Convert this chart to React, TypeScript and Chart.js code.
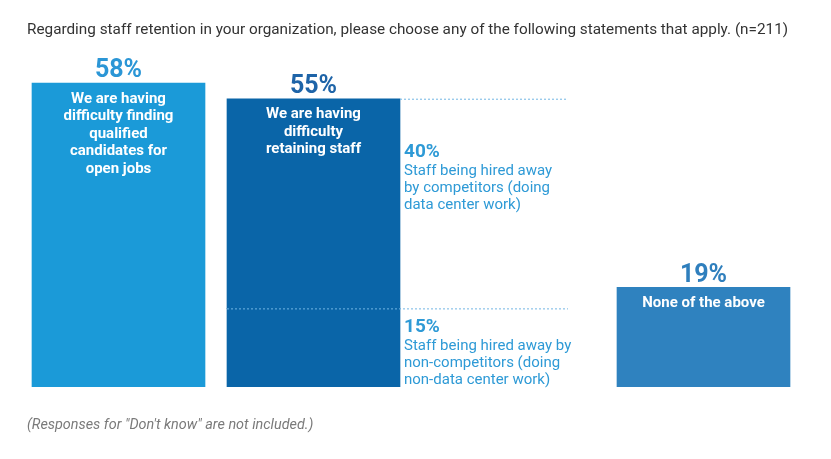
import React, { useEffect, useRef } from "react";
import { Chart, registerables, Plugin } from "chart.js";

Chart.register(...registerables);

const titleText =
  "Regarding staff retention in your organization, please choose any of the following statements that apply. (n=211)";
const footnoteText = '(Responses for "Don\'t know" are not included.)';

// one empty slot holds the breakdown notes for the second bar
const categories = ["Finding candidates", "Retaining staff", "Breakdown", "None of the above"];
const barLabels: string[][] = [
  ["We are having", "difficulty finding", "qualified", "candidates for", "open jobs"],
  ["We are having", "difficulty", "retaining staff"],
  [],
  ["None of the above"],
];
const mainValues = [58, null, null, 19];
const nonCompetitorValues = [null, 15, null, null];
const competitorValues = [null, 40, null, null];
const competitorText = ["Staff being hired away", "by competitors (doing", "data center work)"];
const nonCompetitorText = ["Staff being hired away by", "non-competitors (doing", "non-data center work)"];

const FONT = "Roboto, 'Open Sans', sans-serif";
const barColors = ["#1b9ad8", "#0a65a8", "#0a65a8", "#2f82bf"];
const totalColors = ["#2b96d6", "#1e64a8", "#1e64a8", "#2f7fbd"];
const noteColor = "#2e9ad6";

const labelsPlugin: Plugin<"bar"> = {
  id: "staffLabels",
  afterDatasetsDraw(chart) {
    const ctx = chart.ctx;
    ctx.save();

    // header and footnote
    ctx.textAlign = "left";
    ctx.textBaseline = "middle";
    ctx.fillStyle = "#333";
    ctx.font = `15.3px ${FONT}`;
    ctx.fillText(titleText, 27, 30);
    ctx.fillStyle = "#7a7a7a";
    ctx.font = `italic 14.4px ${FONT}`;
    ctx.fillText(footnoteText, 27, 425);

    // totals above the bars and white text inside them
    categories.forEach((_, i) => {
      const bars = chart.data.datasets
        .map((ds, d) => ({ v: ds.data[i] as number | null, el: chart.getDatasetMeta(d).data[i] as any }))
        .filter((b) => b.v != null);
      if (!bars.length) return;
      const total = bars.reduce((s, b) => s + (b.v as number), 0);
      const top = Math.min(...bars.map((b) => b.el.y));
      const cx = bars[0].el.x;

      ctx.textAlign = "center";
      ctx.fillStyle = totalColors[i];
      ctx.font = `bold 25px ${FONT}`;
      ctx.fillText(`${total}%`, cx, top - 12);

      ctx.fillStyle = "#fff";
      ctx.font = `bold 15px ${FONT}`;
      barLabels[i].forEach((line, k) => ctx.fillText(line, cx, top + 16 + k * 17.5));
    });

    // dotted split lines and notes for the stacked bar
    const lower = chart.getDatasetMeta(1).data[1] as any;
    const upper = chart.getDatasetMeta(2).data[1] as any;
    const left = lower.x - lower.width / 2;
    const right = lower.x + lower.width / 2;
    ctx.strokeStyle = "#72b6e4";
    ctx.lineWidth = 1;
    ctx.setLineDash([2, 2]);
    ctx.beginPath();
    ctx.moveTo(right, upper.y + 0.5);
    ctx.lineTo(right + 168, upper.y + 0.5);
    ctx.moveTo(left, lower.y + 0.5);
    ctx.lineTo(right + 168, lower.y + 0.5);
    ctx.stroke();
    ctx.setLineDash([]);

    const note = (pct: number, lines: string[], y0: number) => {
      ctx.textAlign = "left";
      ctx.fillStyle = noteColor;
      ctx.font = `bold 19px ${FONT}`;
      ctx.fillText(`${pct}%`, right + 4, y0);
      ctx.font = `15px ${FONT}`;
      lines.forEach((line, k) => ctx.fillText(line, right + 4, y0 + 19 + k * 17));
    };
    note(competitorValues[1] as number, competitorText, upper.y + 54);
    note(nonCompetitorValues[1] as number, nonCompetitorText, lower.y + 19);

    ctx.restore();
  },
};

const StaffRetentionChart = () => {
  const canvasRef = useRef<HTMLCanvasElement>(null);

  useEffect(() => {
    if (!canvasRef.current) return;
    const chart = new Chart(canvasRef.current, {
      type: "bar",
      data: {
        labels: categories,
        datasets: [
          { label: "Share", data: mainValues, backgroundColor: barColors },
          { label: "Non-competitors", data: nonCompetitorValues, backgroundColor: barColors },
          { label: "Competitors", data: competitorValues, backgroundColor: barColors },
        ],
      },
      options: {
        animation: false,
        responsive: true,
        maintainAspectRatio: false,
        barThickness: 173,
        borderWidth: 0,
        layout: { padding: { left: 21, right: 30, top: 72.5, bottom: 72 } },
        scales: {
          x: { stacked: true, display: false },
          y: { stacked: true, display: false, min: 0, max: 60 },
        },
        plugins: {
          legend: { display: false },
          tooltip: { enabled: false },
        },
      } as any,
      plugins: [labelsPlugin],
    });
    return () => chart.destroy();
  }, []);

  return (
    <div style={{ position: "absolute", left: 0, top: 0, width: 831, height: 459, background: "#fff" }}>
      <canvas ref={canvasRef} />
    </div>
  );
};

export default function App() {
  return <StaffRetentionChart />;
}
